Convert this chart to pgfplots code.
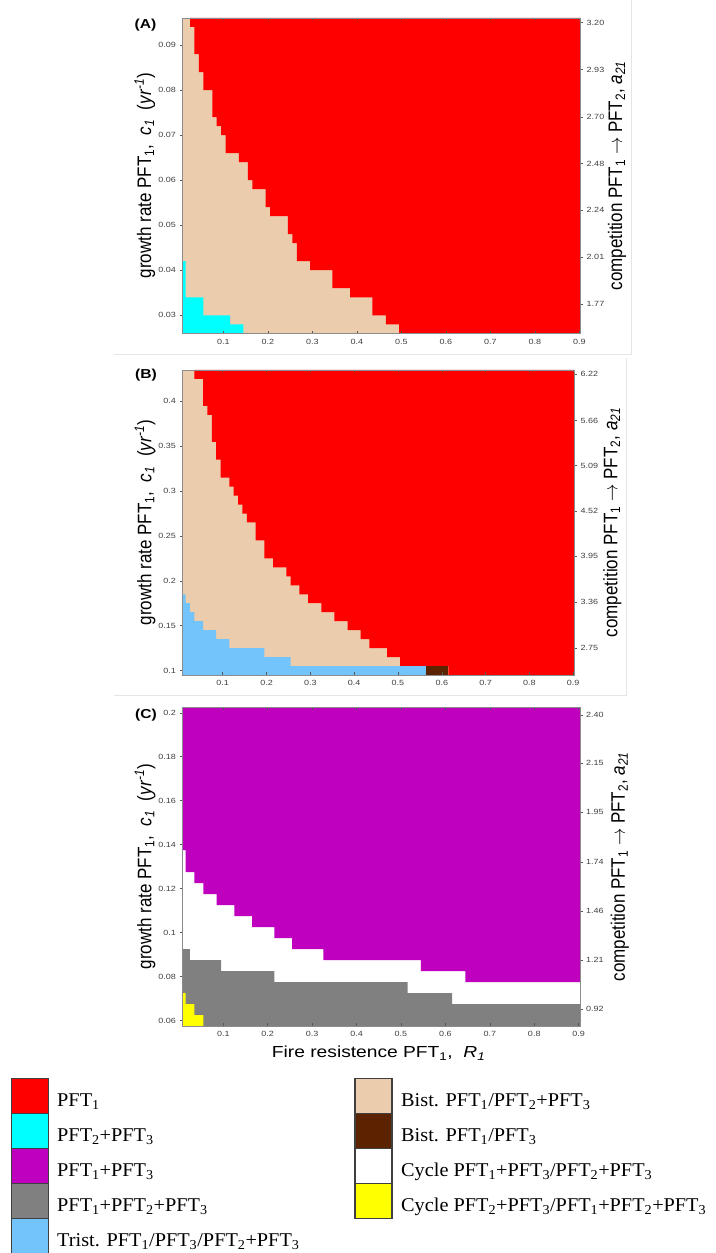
\documentclass[border=0pt]{standalone}
\usepackage{pgfplots}
\pgfplotsset{compat=1.18}
\usepackage{graphicx}
\usepackage{fontspec}
\setmainfont{Liberation Sans}
\newfontfamily\stsans[FakeStretch=1.2]{Liberation Sans}
\newfontfamily\legfont[FakeStretch=1.04]{Liberation Serif}
\definecolor{cRed}{HTML}{FF0000}
\definecolor{cTan}{HTML}{EBCCAC}
\definecolor{cCyan}{HTML}{00FFFF}
\definecolor{cMag}{HTML}{BF00BF}
\definecolor{cGray}{HTML}{808080}
\definecolor{cBlue}{HTML}{73C4FA}
\definecolor{cBrown}{HTML}{5C2300}
\definecolor{cYel}{HTML}{FFFF00}
\newcommand{\ylab}{\scalebox{1}[1.15]{growth rate PFT\textsubscript{1},\ \ \textit{c}\textsubscript{\textit{1}}\ \ (\textit{yr}\textsuperscript{\textit{-1}})}}
\newcommand{\rlab}{\scalebox{1}[1.15]{competition PFT\textsubscript{1} $\rightarrow$ PFT\textsubscript{2}, \textit{a}\textsubscript{\textit{21}}}}
\pgfplotsset{
  panel/.style={
    scale only axis, axis on top, scaled ticks=false,
    axis line style={black!45, line width=0.5pt},
    tick style={black!65, line width=0.5pt},
    major tick length=2.5pt,
    xtick align=inside, ytick align=outside,
    ticklabel style={font=\stsans\fontsize{7.5}{8}\selectfont, text=black!75},
    xtick={0.1,0.2,0.3,0.4,0.5,0.6,0.7,0.8,0.9},
    xticklabels={0.1,0.2,0.3,0.4,0.5,0.6,0.7,0.8,0.9},
    xticklabel style={yshift=-2pt},
    ytick pos=left,
    ylabel style={font=\fontsize{17}{17}\selectfont, anchor=center},
    xlabel style={font=\stsans\fontsize{16}{16}\selectfont, anchor=center},
  },
  rpanel/.style={
    scale only axis, scaled ticks=false,
    axis x line=none, axis y line*=right,
    axis line style={black!45, line width=0.5pt},
    tick style={black!65, line width=0.5pt},
    major tick length=2.5pt, tick align=outside,
    ticklabel style={font=\stsans\fontsize{7.5}{8}\selectfont, text=black!75},
    ylabel style={font=\fontsize{17}{17}\selectfont, anchor=center},
  },
  fillreg/.style={fill=#1, draw=none, forget plot},
}
\begin{document}
\begin{tikzpicture}
\useasboundingbox (0pt,0pt) rectangle (715pt,1253pt);
% faint panel frames
\draw[black!10, line width=0.8pt] (631pt,1253pt) -- (631pt,899pt) -- (114pt,899pt);
\draw[black!10, line width=0.8pt] (626pt,895pt) -- (626pt,558pt) -- (114pt,558pt);

% ---------------- Panel A ----------------
\begin{axis}[panel, at={(182pt,919.7pt)}, anchor=south west,
  width=398.7pt, height=315.3pt,
  xmin=0.007, xmax=0.903, ymin=0.026, ymax=0.096,
  axis background/.style={fill=cTan},
  ytick={0.03,0.04,0.05,0.06,0.07,0.08,0.09},
  yticklabels={0.03,0.04,0.05,0.06,0.07,0.08,0.09},
  ylabel={\ylab}, ylabel style={at={(axis description cs:-0.093,0.5)}}]
\addplot[fillreg=cRed] coordinates {
(0.025,0.096) (0.025,0.094) (0.035,0.094) (0.035,0.088) (0.045,0.088) (0.045,0.084)
(0.055,0.084) (0.055,0.080) (0.075,0.080) (0.075,0.074) (0.085,0.074) (0.085,0.072)
(0.095,0.072) (0.095,0.070) (0.105,0.070) (0.105,0.066) (0.135,0.066) (0.135,0.064)
(0.155,0.064) (0.155,0.060) (0.165,0.060) (0.165,0.058) (0.195,0.058) (0.195,0.054)
(0.205,0.054) (0.205,0.052) (0.245,0.052) (0.245,0.048) (0.255,0.048) (0.255,0.046)
(0.265,0.046) (0.265,0.042) (0.295,0.042) (0.295,0.040) (0.345,0.040) (0.345,0.036)
(0.385,0.036) (0.385,0.034) (0.435,0.034) (0.435,0.030) (0.465,0.030) (0.465,0.028)
(0.495,0.028) (0.495,0.026) (0.905,0.026) (0.905,0.096)} -- cycle;
\addplot[fillreg=cCyan] coordinates {
(0.005,0.042) (0.015,0.042) (0.015,0.034) (0.055,0.034) (0.055,0.030) (0.115,0.030)
(0.115,0.028) (0.145,0.028) (0.145,0.026) (0.005,0.026)} -- cycle;
\end{axis}
\begin{axis}[rpanel, at={(182pt,919.7pt)}, anchor=south west,
  width=398.7pt, height=315.3pt,
  xmin=0.007, xmax=0.903, ymin=0.026, ymax=0.096,
  ytick={0.03252,0.04289,0.05333,0.0637,0.07407,0.08452,0.09496},
  yticklabels={1.77,2.01,2.24,2.48,2.70,2.93,3.20},
  ylabel={\rlab}, ylabel style={at={(axis description cs:1.091,0.5)}}]
\end{axis}
\node[font=\stsans\bfseries\fontsize{13}{13}\selectfont] at (145.5pt,1227.7pt) {(A)};

% ---------------- Panel B ----------------
\begin{axis}[panel, at={(182pt,578pt)}, anchor=south west,
  width=392.5pt, height=305pt,
  xmin=0.007, xmax=0.903, ymin=0.095, ymax=0.435,
  axis background/.style={fill=cTan},
  ytick={0.1,0.15,0.2,0.25,0.3,0.35,0.4},
  yticklabels={0.1,0.15,0.2,0.25,0.3,0.35,0.4},
  ylabel={\ylab}, ylabel style={at={(axis description cs:-0.094,0.5)}}]
\addplot[fillreg=cRed] coordinates {
(0.035,0.435) (0.035,0.425) (0.055,0.425) (0.055,0.395) (0.065,0.395) (0.065,0.385)
(0.075,0.385) (0.075,0.355) (0.085,0.355) (0.085,0.335) (0.095,0.335) (0.095,0.315)
(0.115,0.315) (0.115,0.305) (0.125,0.305) (0.125,0.295) (0.135,0.295) (0.135,0.285)
(0.145,0.285) (0.145,0.275) (0.155,0.275) (0.155,0.265) (0.175,0.265) (0.175,0.245)
(0.195,0.245) (0.195,0.225) (0.215,0.225) (0.215,0.215) (0.245,0.215) (0.245,0.205)
(0.255,0.205) (0.255,0.195) (0.275,0.195) (0.275,0.185) (0.295,0.185) (0.295,0.175)
(0.325,0.175) (0.325,0.165) (0.355,0.165) (0.355,0.155) (0.385,0.155) (0.385,0.145)
(0.415,0.145) (0.415,0.135) (0.435,0.135) (0.435,0.125) (0.475,0.125) (0.475,0.115)
(0.505,0.115) (0.505,0.105) (0.615,0.105) (0.615,0.095) (0.905,0.095) (0.905,0.435)} -- cycle;
\addplot[fillreg=cBlue] coordinates {
(0.005,0.185) (0.015,0.185) (0.015,0.175) (0.025,0.175) (0.025,0.165) (0.035,0.165)
(0.035,0.155) (0.055,0.155) (0.055,0.145) (0.085,0.145) (0.085,0.135) (0.115,0.135)
(0.115,0.125) (0.195,0.125) (0.195,0.115) (0.255,0.115) (0.255,0.105) (0.565,0.105)
(0.565,0.095) (0.005,0.095)} -- cycle;
\addplot[fillreg=cBrown] coordinates {
(0.565,0.095) (0.615,0.095) (0.615,0.105) (0.565,0.105)} -- cycle;
\end{axis}
\begin{axis}[rpanel, at={(182pt,578pt)}, anchor=south west,
  width=392.5pt, height=305pt,
  xmin=0.007, xmax=0.903, ymin=0.095, ymax=0.435,
  ytick={0.1252,0.1765,0.2273,0.2775,0.3283,0.3785,0.4304},
  yticklabels={2.75,3.36,3.95,4.52,5.09,5.66,6.22},
  ylabel={\rlab}, ylabel style={at={(axis description cs:1.096,0.5)}}]
\end{axis}
\node[font=\stsans\bfseries\fontsize{13}{13}\selectfont] at (146pt,878pt) {(B)};

% ---------------- Panel C ----------------
\begin{axis}[panel, at={(182pt,227pt)}, anchor=south west,
  width=398pt, height=318.7pt,
  xmin=0.007, xmax=0.903, ymin=0.0575, ymax=0.2025,
  axis background/.style={fill=white},
  ytick={0.06,0.08,0.1,0.12,0.14,0.16,0.18,0.2},
  yticklabels={0.06,0.08,0.1,0.12,0.14,0.16,0.18,0.2},
  ylabel={\ylab}, ylabel style={at={(axis description cs:-0.093,0.5)}},
  xlabel={Fire resistence PFT\textsubscript{1},\ \ \textit{R}\textsubscript{\textit{1}}},
  xlabel style={at={(axis description cs:0.494,-0.085)}}]
\addplot[fillreg=cMag] coordinates {
(0.005,0.2025) (0.005,0.1375) (0.015,0.1375) (0.015,0.1275) (0.035,0.1275) (0.035,0.1225)
(0.055,0.1225) (0.055,0.1175) (0.085,0.1175) (0.085,0.1125) (0.125,0.1125) (0.125,0.1075)
(0.165,0.1075) (0.165,0.1025) (0.215,0.1025) (0.215,0.0975) (0.255,0.0975) (0.255,0.0925)
(0.325,0.0925) (0.325,0.0875) (0.545,0.0875) (0.545,0.0825) (0.645,0.0825) (0.645,0.0775)
(0.905,0.0775) (0.905,0.2025)} -- cycle;
\addplot[fillreg=cGray] coordinates {
(0.005,0.0925) (0.025,0.0925) (0.025,0.0875) (0.095,0.0875) (0.095,0.0825) (0.215,0.0825)
(0.215,0.0775) (0.515,0.0775) (0.515,0.0725) (0.615,0.0725) (0.615,0.0675) (0.905,0.0675)
(0.905,0.0575) (0.005,0.0575)} -- cycle;
\addplot[fillreg=cYel] coordinates {
(0.005,0.0725) (0.015,0.0725) (0.015,0.0675) (0.035,0.0675) (0.035,0.0625) (0.055,0.0625)
(0.055,0.0575) (0.005,0.0575)} -- cycle;
\end{axis}
\begin{axis}[rpanel, at={(182pt,227pt)}, anchor=south west,
  width=398pt, height=318.7pt,
  xmin=0.007, xmax=0.903, ymin=0.0575, ymax=0.2025,
  ytick={0.0651,0.0874,0.1097,0.1321,0.1548,0.177,0.1989},
  yticklabels={0.92,1.21,1.46,1.74,1.95,2.15,2.40},
  ylabel={\rlab}, ylabel style={at={(axis description cs:1.1,0.5)}}]
\end{axis}
\node[font=\stsans\bfseries\fontsize{13}{13}\selectfont] at (146pt,538pt) {(C)};

% ---------------- Legend ----------------
\begin{scope}[every node/.style={font=\legfont\fontsize{19.5}{20}\selectfont, anchor=base west, inner sep=0pt}]
\tikzset{lb/.style={draw=black!75, line width=1.1pt}}
\filldraw[lb, fill=cRed]   (11.4pt,139.7pt) rectangle (48.9pt,174.7pt);
\filldraw[lb, fill=cCyan]  (11.4pt,104.7pt) rectangle (48.9pt,139.7pt);
\filldraw[lb, fill=cMag]   (11.4pt,69.7pt)  rectangle (48.9pt,104.7pt);
\filldraw[lb, fill=cGray]  (11.4pt,34.7pt)  rectangle (48.9pt,69.7pt);
\filldraw[lb, fill=cBlue]  (11.4pt,-0.3pt)  rectangle (48.9pt,34.7pt);
\node at (57pt,146.3pt) {PFT\textsubscript{1}};
\node at (57pt,111.3pt) {PFT\textsubscript{2}+PFT\textsubscript{3}};
\node at (57pt,76.3pt)  {PFT\textsubscript{1}+PFT\textsubscript{3}};
\node at (57pt,41.3pt)  {PFT\textsubscript{1}+PFT\textsubscript{2}+PFT\textsubscript{3}};
\node at (57pt,6.3pt)   {Trist. PFT\textsubscript{1}/PFT\textsubscript{3}/PFT\textsubscript{2}+PFT\textsubscript{3}};
\filldraw[lb, fill=cTan]   (355pt,139.7pt) rectangle (392pt,174.7pt);
\filldraw[lb, fill=cBrown] (355pt,104.7pt) rectangle (392pt,139.7pt);
\filldraw[lb, fill=white]  (355pt,69.7pt)  rectangle (392pt,104.7pt);
\filldraw[lb, fill=cYel]   (355pt,34.7pt)  rectangle (392pt,69.7pt);
\node at (401pt,146.3pt) {Bist. PFT\textsubscript{1}/PFT\textsubscript{2}+PFT\textsubscript{3}};
\node at (401pt,111.3pt) {Bist. PFT\textsubscript{1}/PFT\textsubscript{3}};
\node at (401pt,76.3pt)  {Cycle PFT\textsubscript{1}+PFT\textsubscript{3}/PFT\textsubscript{2}+PFT\textsubscript{3}};
\node at (401pt,41.3pt)  {Cycle PFT\textsubscript{2}+PFT\textsubscript{3}/PFT\textsubscript{1}+PFT\textsubscript{2}+PFT\textsubscript{3}};
\end{scope}
\end{tikzpicture}
\end{document}
